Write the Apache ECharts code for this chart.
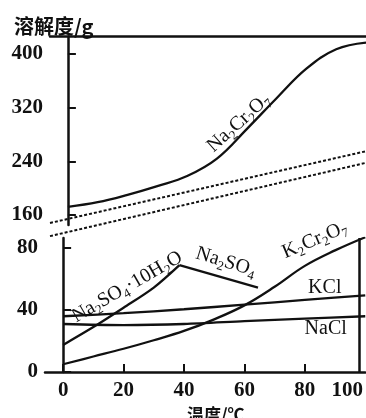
<!DOCTYPE html>
<html>
<head>
<meta charset="utf-8">
<script src="https://cdn.jsdelivr.net/npm/echarts@6/dist/echarts.min.js"></script>
<style>
html,body{margin:0;padding:0;background:#fff;}
#c{width:366px;height:418px;}
</style>
</head>
<body>
<div id="c"></div>
<script>
// ---- data ----
const tempsFine = [0, 10, 20, 30, 40, 50, 60, 70, 80, 90, 100];
const na2cr2o7 = [172, 179, 190, 203, 218, 244, 288, 334, 378, 407, 417];
const k2cr2o7 = [5, 10, 15, 20.5, 26.5, 34, 43, 55, 68.5, 78.5, 87];
const tempsCoarse = [0, 20, 40, 60, 80, 100];
const kcl = [36, 38, 40.5, 43.5, 46.5, 49.5];
const nacl = [31, 30.3, 31, 32.8, 34.5, 36];
const hydrateTemps = [0, 10, 20, 30, 38.5];
const na2so4Hydrate = [17.5, 29, 41.5, 54.5, 69];
const anhydrousTemps = [38.5, 64.5];
const na2so4 = [69, 54.5];
// axis-break marker lines (in upper-panel units)
const breakTemps = [-6, 100];
const breakUpper = [148, 255];
const breakLower = [128.4, 237.7];
// ticks
const xTicks = [0, 20, 40, 60, 80];
const xTickLabels = [0, 20, 40, 60, 80, 100];
const yTopTicks = [160, 240, 320, 400];
const yBottomTicks = [0, 40, 80];
const rightBorderTemp = 98;

const pair = (xs, ys) => xs.map((x, i) => [x, ys[i]]);
const INK = '#111';
const SERIF = 'Liberation Serif';
const tickFont = {color: INK, fontFamily: SERIF, fontSize: 21, fontWeight: 'bold'};
const rich = {
  n: {fontFamily: SERIF, fontSize: 20, color: INK, lineHeight: 25},
  s: {fontFamily: SERIF, fontSize: 13, color: INK, lineHeight: 13, verticalAlign: 'bottom'}
};
function tag(coord, text, rotate) {
  return {
    coord: coord, symbol: 'circle', symbolSize: 0,
    label: {show: true, position: 'inside', rotate: rotate, formatter: text, rich: rich,
            fontFamily: SERIF, fontSize: 20, color: INK}
  };
}
const lineBase = {type: 'line', symbol: 'none', animation: false, silent: true,
  lineStyle: {color: INK, width: 2.3}};

const chart = echarts.init(document.getElementById('c'), null, {renderer: 'canvas'});
chart.setOption({
  backgroundColor: '#fff',
  animation: false,
  title: [
    {text: '溶解度/g', left: 9, top: 11,
     textStyle: {fontFamily: 'Noto Sans CJK SC', fontWeight: 'bold', fontSize: 20, color: INK}},
    {text: '温度/℃', left: 182, top: 401,
     textStyle: {fontFamily: 'Noto Sans CJK SC', fontWeight: 'bold', fontSize: 17, color: INK}}
  ],
  grid: [
    {left: 50, top: 36.5, width: 318, height: 188.5},
    {left: 45, top: 238, width: 324, height: 134}
  ],
  xAxis: [
    {gridIndex: 0, type: 'value', min: -6, max: 100, position: 'top',
     axisLine: {show: true, lineStyle: {color: INK, width: 2.5}},
     axisTick: {show: false}, axisLabel: {show: false}, splitLine: {show: false}},
    {gridIndex: 1, type: 'value', min: -6, max: 100, position: 'bottom',
     axisLine: {show: true, onZero: false, lineStyle: {color: INK, width: 2.5}},
     axisTick: {show: true, inside: true, length: 8, lineStyle: {color: INK, width: 2}, customValues: xTicks},
     axisLabel: Object.assign({}, tickFont, {margin: 8, customValues: xTickLabels,
       formatter: v => v === 100 ? '{r|100}' : String(v),
       rich: {r: Object.assign({}, tickFont, {padding: [0, 36, 0, 0]})}}),
     splitLine: {show: false}}
  ],
  yAxis: [
    {gridIndex: 0, type: 'value', min: 145, max: 426,
     axisLine: {show: true, lineStyle: {color: INK, width: 2.5}},
     axisTick: {show: true, inside: true, length: 8, lineStyle: {color: INK, width: 2}, customValues: yTopTicks},
     axisLabel: Object.assign({}, tickFont, {margin: 7, customValues: yTopTicks}),
     splitLine: {show: false}},
    {gridIndex: 1, type: 'value', min: 0, max: 86.5,
     axisLine: {show: true, lineStyle: {color: INK, width: 2.5}},
     axisTick: {show: true, inside: true, length: 8, lineStyle: {color: INK, width: 2}, customValues: yBottomTicks},
     axisLabel: Object.assign({}, tickFont, {margin: 7, customValues: yBottomTicks}),
     splitLine: {show: false}}
  ],
  series: [
    Object.assign({}, lineBase, {name: 'Na2Cr2O7', xAxisIndex: 0, yAxisIndex: 0, smooth: 0.4,
      data: pair(tempsFine, na2cr2o7),
      markPoint: {silent: true, data: [tag([57.3, 297], '{n|Na}{s|2}{n|Cr}{s|2}{n|O}{s|7}', 42)]}}),
    Object.assign({}, lineBase, {name: 'breakUpper', xAxisIndex: 0, yAxisIndex: 0, clip: false,
      lineStyle: {color: INK, width: 2, type: [3, 2]}, data: pair(breakTemps, breakUpper)}),
    Object.assign({}, lineBase, {name: 'breakLower', xAxisIndex: 0, yAxisIndex: 0, clip: false,
      lineStyle: {color: INK, width: 2, type: [3, 2]}, data: pair(breakTemps, breakLower)}),
    Object.assign({}, lineBase, {name: 'K2Cr2O7', xAxisIndex: 1, yAxisIndex: 1, smooth: 0.4,
      data: pair(tempsFine, k2cr2o7),
      markPoint: {silent: true, data: [tag([83.3, 85.2], '{n|K}{s|2}{n|Cr}{s|2}{n|O}{s|7}', 23)]}}),
    Object.assign({}, lineBase, {name: 'KCl', xAxisIndex: 1, yAxisIndex: 1, smooth: 0.3,
      data: pair(tempsCoarse, kcl),
      markPoint: {silent: true, data: [tag([86.6, 54.2], '{n|KCl}', 0)]},
      markLine: {silent: true, symbol: 'none', animation: false, label: {show: false},
        lineStyle: {color: INK, width: 2.5, type: 'solid'}, data: [{xAxis: rightBorderTemp}]}}),
    Object.assign({}, lineBase, {name: 'NaCl', xAxisIndex: 1, yAxisIndex: 1, smooth: 0.3,
      data: pair(tempsCoarse, nacl),
      markPoint: {silent: true, data: [tag([86.9, 27.8], '{n|NaCl}', 0)]}}),
    Object.assign({}, lineBase, {name: 'Na2SO4·10H2O', xAxisIndex: 1, yAxisIndex: 1, smooth: 0.3,
      data: pair(hydrateTemps, na2so4Hydrate),
      markPoint: {silent: true, data: [tag([21.2, 54.9], '{n|Na}{s|2}{n|SO}{s|4}{n|·10H}{s|2}{n|O}', 30)]}}),
    Object.assign({}, lineBase, {name: 'Na2SO4', xAxisIndex: 1, yAxisIndex: 1,
      data: pair(anhydrousTemps, na2so4),
      markPoint: {silent: true, data: [tag([53.9, 71], '{n|Na}{s|2}{n|SO}{s|4}', -17)]}})
  ]
});
</script>
</body>
</html>
